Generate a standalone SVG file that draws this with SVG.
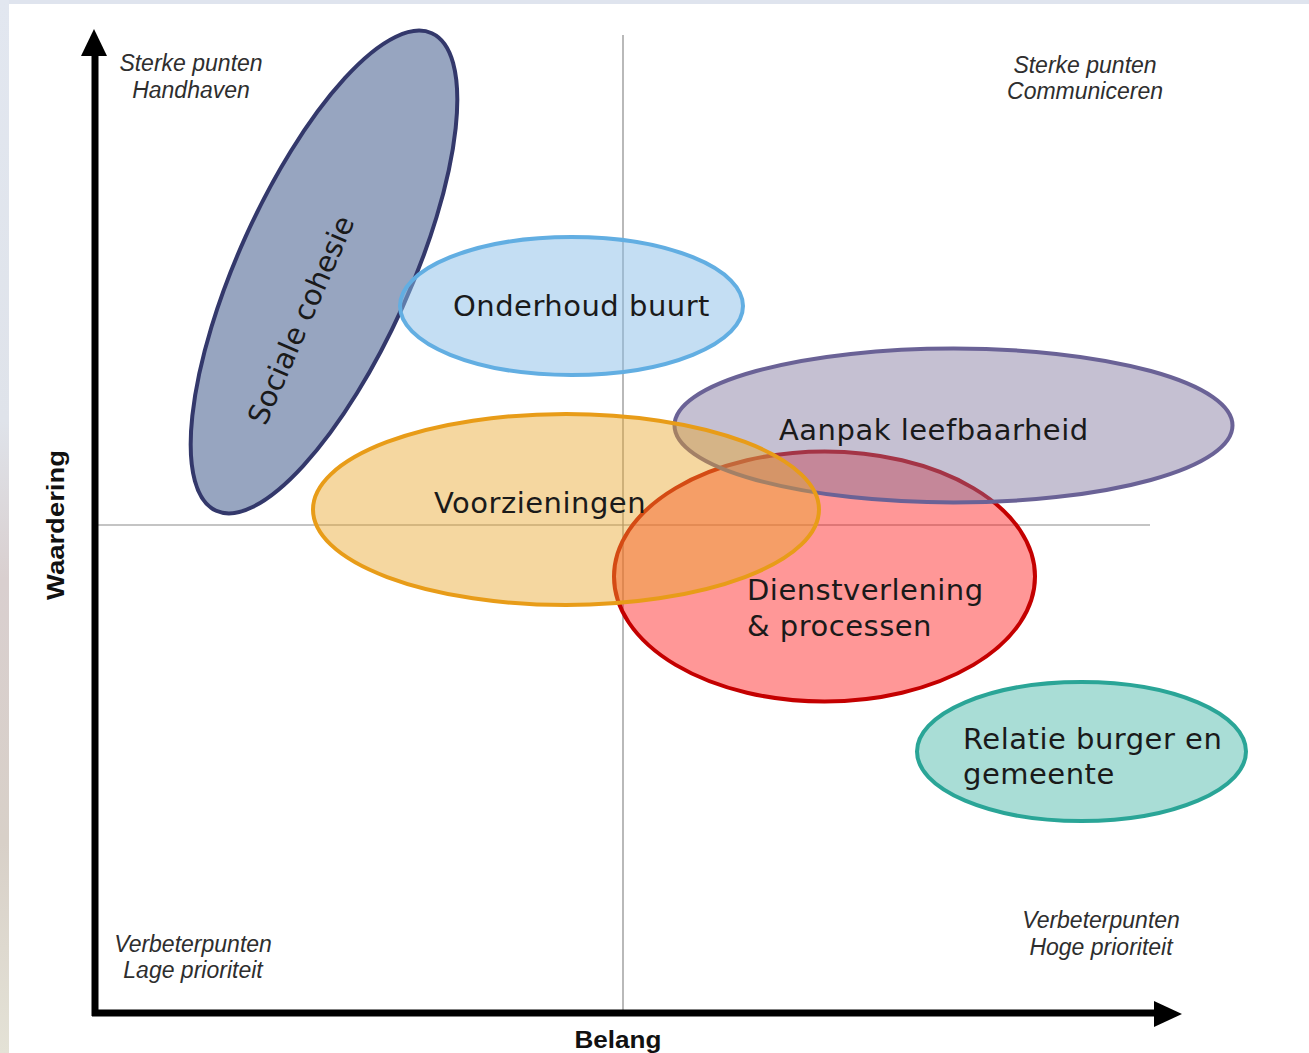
<svg xmlns="http://www.w3.org/2000/svg" width="1309" height="1053" viewBox="0 0 1309 1053">
  <defs>
    <linearGradient id="strip" x1="0" y1="0" x2="0" y2="1">
      <stop offset="0" stop-color="#e2e7f0"/>
      <stop offset="0.4" stop-color="#dfe3ea"/>
      <stop offset="0.55" stop-color="#d9cfcf"/>
      <stop offset="0.8" stop-color="#d8d0c8"/>
      <stop offset="1" stop-color="#e4e2d6"/>
    </linearGradient>
    <style>
      .corner { font-family: "Liberation Sans", Arial, sans-serif; font-style: italic; font-size: 23px; fill: #2e2e2e; text-anchor: middle; }
      .axis-label { font-family: "Liberation Sans", Arial, sans-serif; font-weight: bold; font-size: 24px; fill: #111; text-anchor: middle; }
      .lbl { font-family: "DejaVu Sans", Verdana, sans-serif; font-size: 29px; letter-spacing: 0.5px; fill: #1a1a1a; }
      .grid { stroke: #8a8a8a; stroke-width: 1.2; fill: none; }
      .axis { stroke: #000; stroke-width: 7; fill: none; }
      .ell { stroke-width: 4; }
    </style>
  </defs>

  <!-- background -->
  <rect x="0" y="0" width="1309" height="1053" fill="#dfe4ee"/>
  <rect x="0" y="0" width="9" height="1053" fill="url(#strip)"/>
  <rect x="9" y="4" width="1300" height="1049" fill="#ffffff"/>

  <!-- quadrant lines and axes -->
  <g id="connectors">
    <line class="grid" x1="623" y1="35" x2="623" y2="1010"/>
    <line class="grid" x1="98" y1="525" x2="1150" y2="525"/>
    <line class="axis" x1="95" y1="54" x2="95" y2="1016"/>
    <polygon points="94,29 81,56 107,56" fill="#000"/>
    <line class="axis" x1="92" y1="1013" x2="1156" y2="1013"/>
    <polygon points="1182,1014 1154,1001 1154,1027" fill="#000"/>
  </g>

  <!-- corner labels -->
  <g id="label-sterk-handhaven">
    <text class="corner" x="191" y="71">Sterke punten</text>
    <text class="corner" x="191" y="98">Handhaven</text>
  </g>
  <g id="label-sterk-communiceren">
    <text class="corner" x="1085" y="73">Sterke punten</text>
    <text class="corner" x="1085" y="99">Communiceren</text>
  </g>
  <g id="label-verbeter-laag">
    <text class="corner" x="193" y="952">Verbeterpunten</text>
    <text class="corner" x="193" y="978">Lage prioriteit</text>
  </g>
  <g id="label-verbeter-hoog">
    <text class="corner" x="1101" y="928">Verbeterpunten</text>
    <text class="corner" x="1101" y="955">Hoge prioriteit</text>
  </g>

  <g id="axis-waardering">
    <text class="axis-label" transform="translate(64,525) rotate(-90)" x="0" y="0" textLength="150" lengthAdjust="spacingAndGlyphs">Waardering</text>
  </g>
  <g id="axis-belang">
    <text class="axis-label" x="618" y="1048" textLength="87" lengthAdjust="spacingAndGlyphs">Belang</text>
  </g>

  <!-- ellipses -->
  <g id="node-sociale-cohesie">
    <ellipse class="ell" cx="324" cy="272" rx="262" ry="86" transform="rotate(-65.7 324 272)" fill="#97a5c0" stroke="#33386b"/>
    <text class="lbl" style="letter-spacing:0" text-anchor="middle" transform="translate(301,320) rotate(-66.5)" x="0" y="10">Sociale cohesie</text>
  </g>

  <g id="node-onderhoud-buurt">
    <ellipse class="ell" cx="571.5" cy="306" rx="171.5" ry="69" fill="#89bde7" fill-opacity="0.5" stroke="#62aee2"/>
    <text class="lbl" x="453" y="316">Onderhoud buurt</text>
  </g>

  <g id="node-dienstverlening">
    <ellipse class="ell" cx="824.5" cy="576.5" rx="210.5" ry="125" fill="#ff1818" fill-opacity="0.45" stroke="#c40000"/>
    <text class="lbl" x="747" y="600">Dienstverlening</text>
    <text class="lbl" x="747" y="636">&amp; processen</text>
  </g>

  <g id="node-aanpak-leefbaarheid">
    <ellipse class="ell" cx="953.5" cy="425.5" rx="279" ry="77" fill="#7e739b" fill-opacity="0.45" stroke="#6a6296"/>
    <text class="lbl" x="779" y="440">Aanpak leefbaarheid</text>
  </g>

  <g id="node-voorzieningen">
    <ellipse class="ell" cx="566" cy="509.5" rx="253" ry="95.5" fill="#e9a62c" fill-opacity="0.45" stroke="#e89c18"/>
    <text class="lbl" x="434" y="513">Voorzieningen</text>
  </g>

  <g id="node-relatie">
    <ellipse class="ell" cx="1081.5" cy="751.5" rx="164.5" ry="69.5" fill="#a9ddd6" stroke="#2aa597"/>
    <text class="lbl" x="963" y="749">Relatie burger en</text>
    <text class="lbl" x="963" y="784">gemeente</text>
  </g>
</svg>
